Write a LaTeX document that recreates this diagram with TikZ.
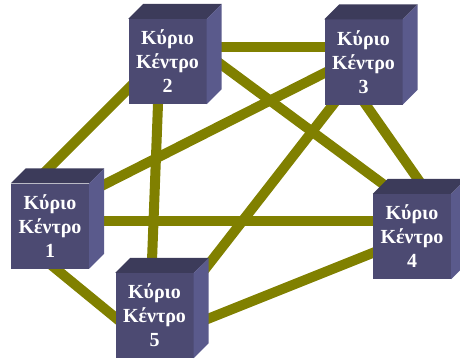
\documentclass[tikz,border=0pt]{standalone}
\usepackage{fontspec}
\setmainfont{Liberation Serif}
\usetikzlibrary{backgrounds,calc}
\definecolor{linkcol}{RGB}{128,128,0}
\definecolor{frontcol}{RGB}{76,74,114}
\definecolor{topcol}{RGB}{60,59,90}
\definecolor{sidecol}{RGB}{90,90,140}
\tikzset{
  hubbox/.style={rectangle, fill=frontcol, minimum width=78pt, minimum height=85pt,
    inner sep=0pt, text=white, font=\fontsize{20}{24}\selectfont\bfseries, align=center},
  link/.style={draw=linkcol, line width=10pt},
}
\newcommand\cubefaces[1]{%
  \fill[topcol] (#1.north west) -- ++(15,-15) -- ($(#1.north east)+(15,-15)$) -- (#1.north east) -- cycle;
  \fill[sidecol] (#1.north east) -- ++(15,-15) -- ($(#1.south east)+(15,-15)$) -- (#1.south east) -- cycle;
}
\begin{document}
\begin{tikzpicture}[x=1pt,y=-1pt]
\useasboundingbox (0,0) rectangle (460,361);
\node[hubbox] (b1) at (50,226) {Κύριο\\Κέντρο\\1};
\node[hubbox] (b2) at (167.5,61.5) {Κύριο\\Κέντρο\\2};
\node[hubbox] (b3) at (363.5,62) {Κύριο\\Κέντρο\\3};
\node[hubbox] (b4) at (412,236.5) {Κύριο\\Κέντρο\\4};
\node[hubbox] (b5) at (154.5,315.5) {Κύριο\\Κέντρο\\5};
\cubefaces{b1}\cubefaces{b2}\cubefaces{b3}\cubefaces{b4}\cubefaces{b5}
\begin{scope}[on background layer]
  \draw[link] ($(b1)+(-10,-49)$) -- ($(b2)+(-17.5,5.5)$);
  \draw[link] ($(b1)+(10,-19)$) -- ($(b3)+(-3.5,-7)$);
  \draw[link] ($(b1)+(10,-5.5)$) -- ($(b4)+(-2,-16)$);
  \draw[link] ($(b1)+(0,38)$) -- ($(b5)+(-4.5,30.5)$);
  \draw[link] ($(b2)+(2.5,-14.5)$) -- ($(b3)+(-3.5,-15)$);
  \draw[link] ($(b2)+(12.5,-27.5)$) -- ($(b4)+(-2,-32.5)$);
  \draw[link] ($(b2)+(-7.8,-1.5)$) -- ($(b5)+(-4.4,-5.5)$);
  \draw[link] ($(b3)+(-18.5,13)$) -- ($(b4)+(31,-21.5)$);
  \draw[link] ($(b3)+(-3.5,8)$) -- ($(b5)+(26.5,-15.5)$);
  \draw[link] ($(b4)+(-2,1.5)$) -- ($(b5)+(5.5,22.5)$);
\end{scope}
\end{tikzpicture}
\end{document}
